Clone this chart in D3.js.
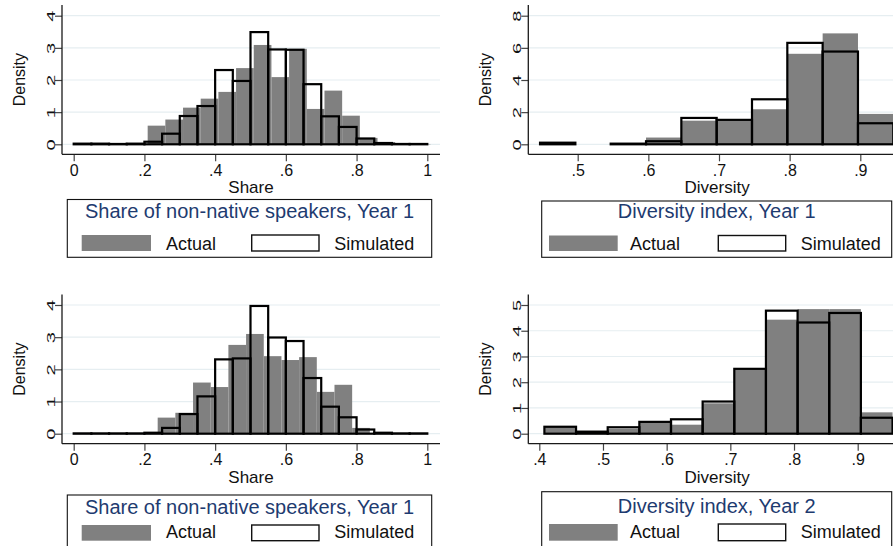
<!DOCTYPE html>
<html>
<head>
<meta charset="utf-8">
<script src="https://cdn.jsdelivr.net/npm/d3@7"></script>
<style>
  html, body { margin: 0; padding: 0; background: #ffffff; }
  svg { display: block; }
  text { font-family: 'Liberation Sans', Arial, Helvetica, sans-serif; }
</style>
</head>
<body>
<svg id="chart" width="893" height="546"></svg>
<script>
// ---- Data: histogram densities (bin start, bin width, bar heights) ----

// Share of non-native speakers, Year 1 (top left)
const shareY1Sim = { start: 0, width: 0.05 };
const shareY1SimValues = [0.02, 0.02, 0.01, 0.02, 0.08, 0.33, 0.88, 1.19, 2.31, 1.97,
                          3.49, 2.95, 2.94, 1.87, 0.87, 0.54, 0.18, 0.04, 0.01, 0.01];
const shareY1Act = { start: 0.0092, width: 0.05 };
const shareY1ActValues = [0.01, 0.01, 0.02, 0.01, 0.58, 0.77, 1.14, 1.42, 1.63, 2.37,
                          3.09, 2.09, 2.97, 1.10, 1.67, 0.89, 0.20, 0.07, 0.03, 0.01];

// Diversity index, Year 1 (top right)
const divY1Sim = { start: 0.4467, width: 0.05 };
const divY1SimValues = [0.10, 0, 0.04, 0.19, 1.64, 1.52, 2.80, 6.31, 5.77, 1.31];
const divY1Act = { start: 0.4467, width: 0.05 };
const divY1ActValues = [0.08, 0, 0.02, 0.42, 1.47, 1.45, 2.18, 5.63, 6.90, 1.89];

// Share of non-native speakers, second sample (bottom left)
const shareY2Sim = { start: 0, width: 0.05 };
const shareY2SimValues = [0.01, 0.01, 0.01, 0.01, 0.03, 0.18, 0.61, 1.16, 2.31, 2.34,
                          3.97, 2.99, 2.88, 1.73, 0.84, 0.51, 0.13, 0.03, 0.01, 0.01];
const shareY2Act = { start: 0.0375, width: 0.05 };
const shareY2ActValues = [0.01, 0, 0, 0.01, 0.50, 0.65, 1.59, 1.45, 2.76, 3.10,
                          2.41, 2.29, 2.38, 1.30, 1.52, 0.18, 0.02, 0.01, 0.01];

// Diversity index, Year 2 (bottom right)
const divY2Sim = { start: 0.408, width: 0.0497 };
const divY2SimValues = [0.27, 0.08, 0.25, 0.46, 0.56, 1.25, 2.52, 4.78, 4.32, 4.69, 0.62];
const divY2Act = { start: 0.408, width: 0.0497 };
const divY2ActValues = [0.27, 0.07, 0.19, 0.47, 0.35, 1.18, 2.50, 4.43, 4.84, 4.84, 0.83];

// ---- Axis ticks and labels ----
const shareTicks = [0, 0.2, 0.4, 0.6, 0.8, 1];
const shareTickLabels = ["0", ".2", ".4", ".6", ".8", "1"];
const divY1Ticks = [0.5, 0.6, 0.7, 0.8, 0.9];
const divY1TickLabels = [".5", ".6", ".7", ".8", ".9"];
const divY2Ticks = [0.4, 0.5, 0.6, 0.7, 0.8, 0.9];
const divY2TickLabels = [".4", ".5", ".6", ".7", ".8", ".9"];
const densityTicksA = [0, 1, 2, 3, 4];
const densityTicksB = [0, 2, 4, 6, 8];
const densityTicksC = [0, 1, 2, 3, 4, 5];

// ---- Titles ----
const panelTitles = [
  "Share of non-native speakers, Year 1",
  "Diversity index, Year 1",
  "Share of non-native speakers, Year 1",
  "Diversity index, Year 2"
];
const xTitles = ["Share", "Diversity", "Share", "Diversity"];
const yTitle = "Density";
const seriesNames = ["Actual", "Simulated"];

// ---- Styling ----
const ACTUAL_FILL = "#808080";
const SIM_STROKE = "#000000";
const GRID = "#e6eef1";
const AXIS = "#1a1a1a";
const TITLE_COLOR = "#1e3b70";

const svg = d3.select("#chart");

function drawPanel(p) {
  const g = svg.append("g");
  const x = d3.scaleLinear().domain(p.xDomain).range(p.xRange);
  const y = d3.scaleLinear().domain(p.yDomain).range(p.yRange);

  // horizontal grid lines at the density ticks
  g.append("g").selectAll("line").data(p.yTicks).join("line")
    .attr("x1", p.plot.left).attr("x2", p.plot.right)
    .attr("y1", d => y(d)).attr("y2", d => y(d))
    .attr("stroke", GRID).attr("stroke-width", 1.2);

  const bins = (spec, values) => values.map((v, i) => ({
    x0: spec.start + i * spec.width,
    x1: spec.start + (i + 1) * spec.width,
    v
  })).filter(d => d.v > 0);

  // actual: filled grey bars
  g.append("g").selectAll("rect").data(bins(p.act, p.actValues)).join("rect")
    .attr("x", d => x(d.x0))
    .attr("width", d => x(d.x1) - x(d.x0))
    .attr("y", d => y(d.v))
    .attr("height", d => y(0) - y(d.v))
    .attr("fill", ACTUAL_FILL);

  // simulated: outlined bars
  g.append("g").selectAll("rect").data(bins(p.sim, p.simValues)).join("rect")
    .attr("x", d => x(d.x0))
    .attr("width", d => x(d.x1) - x(d.x0))
    .attr("y", d => y(d.v))
    .attr("height", d => y(0) - y(d.v))
    .attr("fill", "none")
    .attr("stroke", SIM_STROKE)
    .attr("stroke-width", 2.2);

  // y axis (labels rotated and stretched along the reading direction)
  const yAxis = g.append("g")
    .attr("transform", `translate(${p.plot.left},0)`)
    .call(d3.axisLeft(y).tickValues(p.yTicks).tickSize(7).tickSizeOuter(0).tickFormat(d3.format("d")));
  yAxis.select(".domain").remove();
  yAxis.selectAll(".tick line").attr("stroke", "#444").attr("stroke-width", 1.2);
  yAxis.selectAll(".tick text")
    .attr("transform", "rotate(-90) scale(1.75,1)")
    .attr("x", 0).attr("y", -7).attr("dy", 0)
    .attr("text-anchor", "middle")
    .attr("fill", "#111")
    .style("font-size", "11.5px")
    .style("font-family", "'Liberation Sans', Arial, sans-serif");
  g.append("line")
    .attr("x1", p.plot.left).attr("x2", p.plot.left)
    .attr("y1", p.plot.top).attr("y2", p.plot.bottom)
    .attr("stroke", AXIS).attr("stroke-width", 1.3);

  // x axis
  const xAxis = g.append("g")
    .attr("transform", `translate(0,${p.plot.bottom})`)
    .call(d3.axisBottom(x).tickValues(p.xTicks).tickSize(7).tickSizeOuter(0)
      .tickFormat((d, i) => p.xTickLabels[i]));
  xAxis.select(".domain").remove();
  xAxis.selectAll(".tick line").attr("stroke", "#444").attr("stroke-width", 1.2);
  xAxis.selectAll(".tick text")
    .attr("y", 21.3).attr("dy", 0)
    .attr("fill", "#111")
    .style("font-size", "16px")
    .style("font-family", "'Liberation Sans', Arial, sans-serif");
  g.append("line")
    .attr("x1", p.plot.left).attr("x2", p.plot.right)
    .attr("y1", p.plot.bottom).attr("y2", p.plot.bottom)
    .attr("stroke", AXIS).attr("stroke-width", 1.3);

  // axis titles
  g.append("text")
    .attr("x", (p.plot.left + p.plot.right) / 2)
    .attr("y", p.plot.bottom + 39)
    .attr("text-anchor", "middle")
    .attr("fill", "#111")
    .style("font-size", "17px")
    .text(p.xTitle);
  const cy = (p.plot.top + p.plot.bottom) / 2;
  g.append("text")
    .attr("transform", `translate(${p.plot.left - 37.5},${cy}) rotate(-90)`)
    .attr("text-anchor", "middle")
    .attr("fill", "#111")
    .style("font-size", "16px")
    .text(yTitle);

  // legend box
  const L = p.legend;
  g.append("rect")
    .attr("x", L.left).attr("y", L.top)
    .attr("width", L.right - L.left).attr("height", L.bottom - L.top)
    .attr("fill", "#fff").attr("stroke", "#111").attr("stroke-width", 1.1);
  g.append("text")
    .attr("x", (L.left + L.right) / 2).attr("y", L.titleBase)
    .attr("text-anchor", "middle")
    .attr("fill", TITLE_COLOR)
    .style("font-size", "20px")
    .text(p.title);
  g.append("rect")
    .attr("x", L.key1[0]).attr("width", L.key1[1] - L.key1[0])
    .attr("y", L.keyTop).attr("height", L.keyBottom - L.keyTop)
    .attr("fill", ACTUAL_FILL);
  g.append("text")
    .attr("x", L.label1).attr("y", L.labelBase)
    .attr("fill", "#111").style("font-size", "18px")
    .text(seriesNames[0]);
  g.append("rect")
    .attr("x", L.key2[0]).attr("width", L.key2[1] - L.key2[0])
    .attr("y", L.keyTop).attr("height", L.keyBottom - L.keyTop)
    .attr("fill", "#fff").attr("stroke", "#111").attr("stroke-width", 1.4);
  g.append("text")
    .attr("x", L.label2).attr("y", L.labelBase)
    .attr("fill", "#111").style("font-size", "18px")
    .text(seriesNames[1]);
}

const legendLeft = { left: 67.3, right: 431.7, key1: [81.7, 151], key2: [251.7, 319], label1: 166, label2: 334.3 };
const legendRight = { left: 541.7, right: 891.7, key1: [549, 617.7], key2: [718.3, 785.7], label1: 630, label2: 800.7 };

drawPanel({
  xDomain: [0, 1], xRange: [73.7, 427.3],
  yDomain: [0, 4], yRange: [144.3, 15.7],
  plot: { left: 62, right: 440, top: 5, bottom: 154.3 },
  xTicks: shareTicks, xTickLabels: shareTickLabels, yTicks: densityTicksA,
  sim: shareY1Sim, simValues: shareY1SimValues,
  act: shareY1Act, actValues: shareY1ActValues,
  xTitle: xTitles[0], title: panelTitles[0],
  legend: Object.assign({}, legendLeft, { top: 199.5, bottom: 257.3, titleBase: 218.3, keyTop: 235, keyBottom: 251, labelBase: 250 })
});

drawPanel({
  xDomain: [0.5, 0.9], xRange: [577.7, 860.3],
  yDomain: [0, 8], yRange: [144.3, 15.7],
  plot: { left: 528.3, right: 906, top: 5, bottom: 154.3 },
  xTicks: divY1Ticks, xTickLabels: divY1TickLabels, yTicks: densityTicksB,
  sim: divY1Sim, simValues: divY1SimValues,
  act: divY1Act, actValues: divY1ActValues,
  xTitle: xTitles[1], title: panelTitles[1],
  legend: Object.assign({}, legendRight, { top: 201, bottom: 257.3, titleBase: 218.3, keyTop: 235.5, keyBottom: 251, labelBase: 250 })
});

drawPanel({
  xDomain: [0, 1], xRange: [73.7, 427.3],
  yDomain: [0, 4], yRange: [433.7, 305],
  plot: { left: 62, right: 440, top: 294.5, bottom: 443.7 },
  xTicks: shareTicks, xTickLabels: shareTickLabels, yTicks: densityTicksA,
  sim: shareY2Sim, simValues: shareY2SimValues,
  act: shareY2Act, actValues: shareY2ActValues,
  xTitle: xTitles[2], title: panelTitles[2],
  legend: Object.assign({}, legendLeft, { top: 495, bottom: 552, titleBase: 513.5, keyTop: 525, keyBottom: 540.7, labelBase: 538.3 })
});

drawPanel({
  xDomain: [0.4, 0.9], xRange: [539.3, 857.7],
  yDomain: [0, 5], yRange: [433.7, 305],
  plot: { left: 528.3, right: 906, top: 294.5, bottom: 443.7 },
  xTicks: divY2Ticks, xTickLabels: divY2TickLabels, yTicks: densityTicksC,
  sim: divY2Sim, simValues: divY2SimValues,
  act: divY2Act, actValues: divY2ActValues,
  xTitle: xTitles[3], title: panelTitles[3],
  legend: Object.assign({}, legendRight, { top: 491.7, bottom: 552, titleBase: 513, keyTop: 524, keyBottom: 540.7, labelBase: 538.3 })
});
</script>
</body>
</html>
